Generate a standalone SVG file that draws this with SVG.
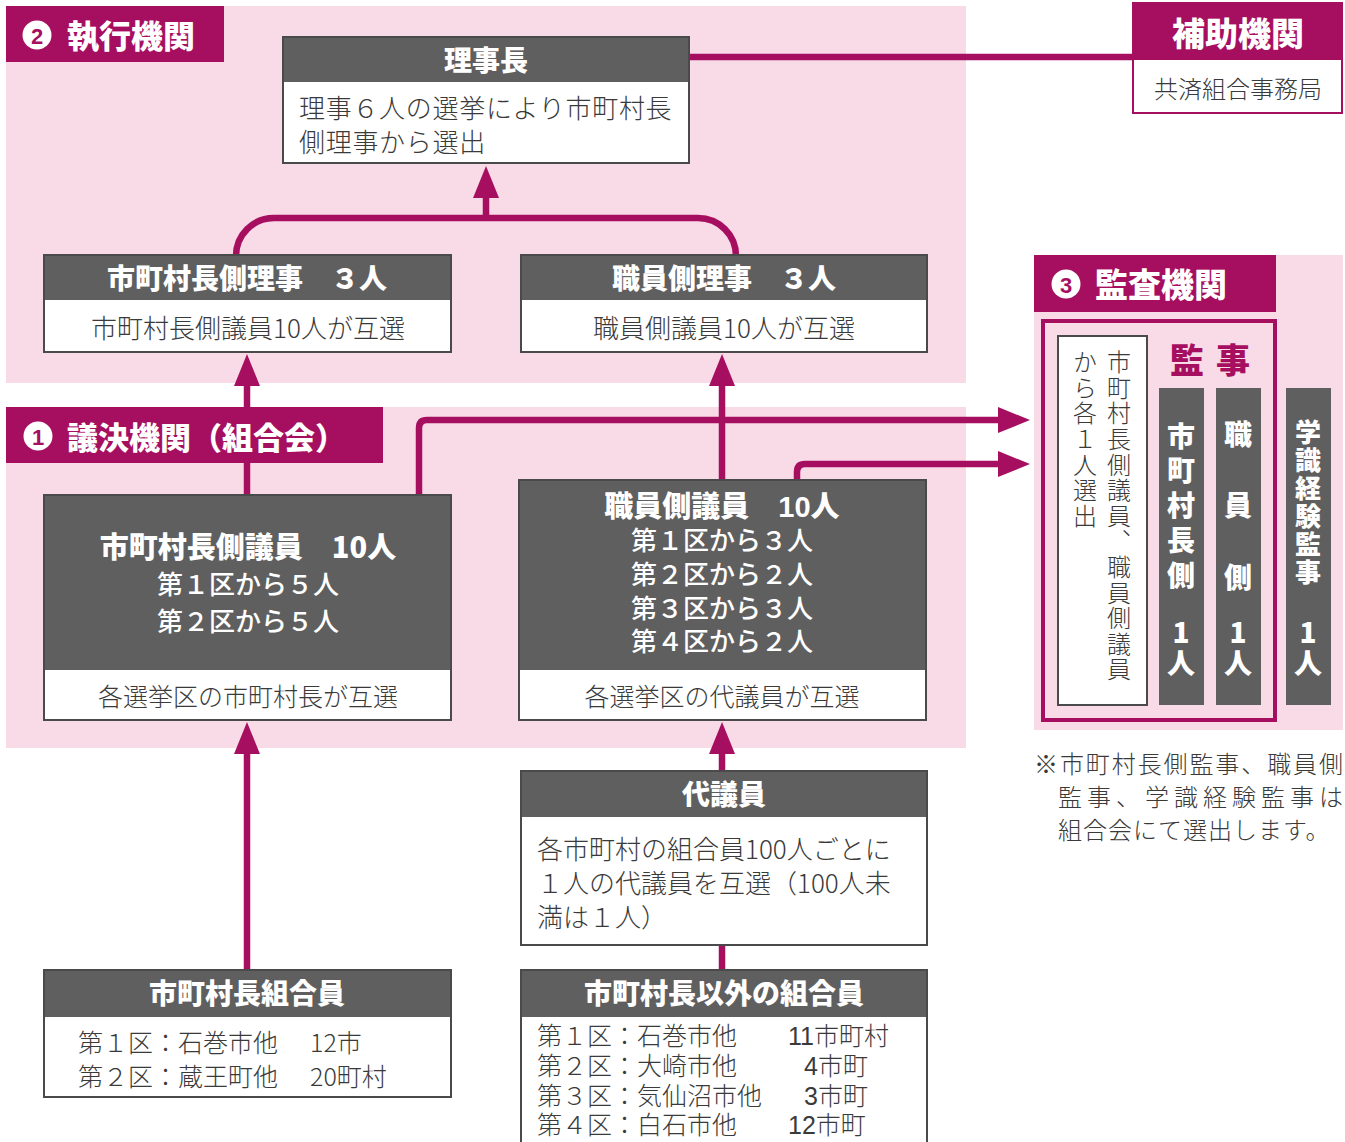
<svg xmlns="http://www.w3.org/2000/svg" width="1345" height="1142" viewBox="0 0 1345 1142">
<defs>
<style>
text{font-family:"Noto Sans CJK JP","Noto Sans",sans-serif;}
.pink{fill:#f9dbe8;}
.mag{fill:#a60f60;}
.dark{fill:#5f5f5f;}
.wbox{fill:#fff;stroke:#4a4a4a;stroke-width:2;}
.frame{fill:none;stroke:#4a4a4a;stroke-width:2;}
.ttl{font-size:32px;font-weight:900;fill:#fff;dominant-baseline:central;}
.hd{font-size:28px;font-weight:900;fill:#fff;text-anchor:middle;dominant-baseline:central;}
.hd29{font-size:29px;font-weight:900;fill:#fff;text-anchor:middle;dominant-baseline:central;}
.wt{font-size:26px;font-weight:500;fill:#fff;text-anchor:middle;dominant-baseline:central;}
.bd{font-size:26px;font-weight:300;fill:#3a3a3a;dominant-baseline:central;}
.bdc{font-size:25px;font-weight:300;fill:#3a3a3a;text-anchor:middle;dominant-baseline:central;}
.bd25{font-size:25px;font-weight:300;fill:#3a3a3a;dominant-baseline:central;}
.tight{font-family:"Liberation Sans","Noto Sans CJK JP",sans-serif;}
.note{font-size:24px;font-weight:300;fill:#3a3a3a;dominant-baseline:central;}
.vt{font-size:24px;font-weight:300;fill:#3a3a3a;writing-mode:vertical-rl;letter-spacing:1.6px;}
.vw{font-size:28px;font-weight:900;fill:#fff;writing-mode:vertical-rl;}
.vn{font-size:28px;font-weight:900;fill:#fff;writing-mode:vertical-rl;text-orientation:upright;letter-spacing:3px;}
.conn{fill:none;stroke:#a60f60;stroke-width:6.5;stroke-linejoin:round;}
.num{font-size:22px;font-weight:900;fill:#a60f60;text-anchor:middle;dominant-baseline:central;font-family:"Liberation Sans","Noto Sans",sans-serif;}
</style>
<marker id="ah" markerUnits="userSpaceOnUse" viewBox="0 0 32 26" refX="0" refY="13" markerWidth="32" markerHeight="26" orient="auto">
<path d="M0,0 L32,13 L0,26 z" fill="#a60f60"/>
</marker>
</defs>

<!-- background regions -->
<g id="regions">
<rect class="pink" x="6" y="6" width="960" height="377"/>
<rect class="pink" x="6" y="407" width="960" height="341"/>
<rect class="pink" x="1034" y="255" width="309" height="475"/>
</g>

<!-- connectors -->
<g id="connectors">
<path class="conn" d="M689,57 H1133"/>
<path class="conn" d="M236,256 A38,38 0 0 1 274,218 H698 A38,38 0 0 1 736,256"/>
<path class="conn" d="M486,218 V198" marker-end="url(#ah)"/>
<path class="conn" d="M247,495 V386" marker-end="url(#ah)"/>
<path class="conn" d="M722,480 V386" marker-end="url(#ah)"/>
<path class="conn" d="M419,495 V428 Q419,420 427,420 H998" marker-end="url(#ah)"/>
<path class="conn" d="M797,480 V472 Q797,464 805,464 H998" marker-end="url(#ah)"/>
<path class="conn" d="M722,771 V754" marker-end="url(#ah)"/>
<path class="conn" d="M247,970 V754" marker-end="url(#ah)"/>
<path class="conn" d="M722,945 V970"/>
</g>

<!-- section headers -->
<g id="hdr-exec">
<rect class="mag" x="6" y="6" width="218" height="56"/>
<circle cx="37" cy="35" r="14.5" fill="#fff"/>
<text class="num" x="37" y="36">2</text>
<text class="ttl" x="67" y="34">執行機関</text>
</g>
<g id="hdr-vote">
<rect class="mag" x="6" y="407" width="377" height="56"/>
<circle cx="38" cy="436" r="14.5" fill="#fff"/>
<text class="num" x="38" y="437">1</text>
<text class="ttl" x="67" y="435" style="font-size:31px">議決機関（組合会）</text>
</g>
<g id="hdr-audit">
<rect class="mag" x="1034" y="255" width="242" height="57"/>
<circle cx="1066" cy="284" r="14.5" fill="#fff"/>
<text class="num" x="1066" y="285">3</text>
<text class="ttl" x="1095" y="283" style="font-size:33px">監査機関</text>
</g>

<!-- 理事長 -->
<g id="chairman">
<rect class="wbox" x="283" y="37" width="406" height="126"/>
<rect class="dark" x="283" y="37" width="406" height="45"/>
<rect class="frame" x="283" y="37" width="406" height="126"/>
<text class="hd" x="486" y="59">理事長</text>
<text class="bd" x="299" y="106" style="letter-spacing:0.7px">理事６人の選挙により市町村長</text>
<text class="bd" x="299" y="140" style="letter-spacing:0.7px">側理事から選出</text>
</g>

<!-- 補助機関 -->
<g id="support">
<rect x="1133" y="3" width="209" height="110" fill="#fff" stroke="#a60f60" stroke-width="2"/>
<rect class="mag" x="1133" y="3" width="209" height="57"/>
<text class="ttl" x="1238" y="32" style="font-size:33px;text-anchor:middle">補助機関</text>
<text class="bdc" x="1238" y="87" style="font-size:24px">共済組合事務局</text>
</g>

<!-- 市町村長側理事 -->
<g id="mayor-directors">
<rect class="wbox" x="44" y="255" width="407" height="97"/>
<rect class="dark" x="44" y="255" width="407" height="45"/>
<rect class="frame" x="44" y="255" width="407" height="97"/>
<text class="hd" x="247" y="277">市町村長側理事　３人</text>
<text class="bdc" x="248" y="326" style="font-size:26px">市町村長側議員10人が互選</text>
</g>

<!-- 職員側理事 -->
<g id="staff-directors">
<rect class="wbox" x="521" y="255" width="406" height="97"/>
<rect class="dark" x="521" y="255" width="406" height="45"/>
<rect class="frame" x="521" y="255" width="406" height="97"/>
<text class="hd" x="724" y="277">職員側理事　３人</text>
<text class="bdc" x="724" y="326" style="font-size:26px">職員側議員10人が互選</text>
</g>

<!-- 市町村長側議員 -->
<g id="mayor-members">
<rect class="wbox" x="44" y="495" width="407" height="225"/>
<rect class="dark" x="44" y="495" width="407" height="175"/>
<rect class="frame" x="44" y="495" width="407" height="225"/>
<text class="hd29" x="248" y="545">市町村長側議員　10人</text>
<text class="wt" x="248" y="582">第１区から５人</text>
<text class="wt" x="248" y="619">第２区から５人</text>
<text class="bdc" x="248" y="695">各選挙区の市町村長が互選</text>
</g>

<!-- 職員側議員 -->
<g id="staff-members">
<rect class="wbox" x="519" y="480" width="407" height="240"/>
<rect class="dark" x="519" y="480" width="407" height="190"/>
<rect class="frame" x="519" y="480" width="407" height="240"/>
<text class="hd29 tight" x="722" y="507">職員側議員　10人</text>
<text class="wt tight" x="722" y="541">第１区から３人</text>
<text class="wt tight" x="722" y="575">第２区から２人</text>
<text class="wt tight" x="722" y="609">第３区から３人</text>
<text class="wt tight" x="722" y="642">第４区から２人</text>
<text class="bdc" x="722" y="695">各選挙区の代議員が互選</text>
</g>

<!-- 代議員 -->
<g id="delegates">
<rect class="wbox" x="521" y="771" width="406" height="174"/>
<rect class="dark" x="521" y="771" width="406" height="46"/>
<rect class="frame" x="521" y="771" width="406" height="174"/>
<text class="hd" x="724" y="793">代議員</text>
<text class="bd" x="537" y="847">各市町村の組合員100人ごとに</text>
<text class="bd" x="537" y="881">１人の代議員を互選（100人未</text>
<text class="bd" x="537" y="915">満は１人）</text>
</g>

<!-- 市町村長組合員 -->
<g id="mayor-union">
<rect class="wbox" x="44" y="970" width="407" height="127"/>
<rect class="dark" x="44" y="970" width="407" height="47"/>
<rect class="frame" x="44" y="970" width="407" height="127"/>
<text class="hd" x="247" y="992">市町村長組合員</text>
<text class="bd25" x="78" y="1041">第１区：石巻市他</text>
<text class="bd25" x="310" y="1041">12市</text>
<text class="bd25" x="78" y="1075">第２区：蔵王町他</text>
<text class="bd25" x="310" y="1075">20町村</text>
</g>

<!-- 市町村長以外の組合員 -->
<g id="other-union">
<rect class="wbox" x="521" y="970" width="406" height="180"/>
<rect class="dark" x="521" y="970" width="406" height="47"/>
<rect class="frame" x="521" y="970" width="406" height="180"/>
<text class="hd" x="724" y="992">市町村長以外の組合員</text>
<text class="bd25 tight" x="537" y="1036">第１区：石巻市他</text>
<text class="bd25 tight" x="788" y="1036">11市町村</text>
<text class="bd25 tight" x="537" y="1066">第２区：大崎市他</text>
<text class="bd25 tight" x="804" y="1066">4市町</text>
<text class="bd25 tight" x="537" y="1096">第３区：気仙沼市他</text>
<text class="bd25 tight" x="804" y="1096">3市町</text>
<text class="bd25 tight" x="537" y="1125">第４区：白石市他</text>
<text class="bd25 tight" x="788" y="1125">12市町</text>
</g>

<!-- 監事 -->
<g id="auditors">
<rect x="1043" y="321" width="232" height="399" fill="none" stroke="#a60f60" stroke-width="4"/>
<rect class="wbox" x="1058" y="336" width="89" height="369"/>
<text class="vt" x="1119" y="350">市町村長側議員、職員側議員</text>
<text class="vt" x="1085" y="350">から各１人選出</text>
<text x="1170" y="358" style="font-size:34px;font-weight:900;fill:#a60f60;dominant-baseline:central;letter-spacing:12px">監事</text>
</g>
<g id="auditor-mayor">
<rect class="dark" x="1159" y="388" width="45" height="317"/>
<text class="vw" x="1181" y="422" style="letter-spacing:6.8px">市町村長側</text>
<text class="vn" x="1181" y="618">1人</text>
</g>
<g id="auditor-staff">
<rect class="dark" x="1216" y="388" width="45" height="317"/>
<text class="vw" x="1238" y="420" style="letter-spacing:43.5px">職員側</text>
<text class="vn" x="1238" y="618">1人</text>
</g>
<g id="auditor-expert">
<rect class="dark" x="1286" y="388" width="45" height="317"/>
<text class="vw" x="1308" y="419" style="font-size:26px;letter-spacing:2px">学識経験監事</text>
<text class="vn" x="1308" y="618">1人</text>
</g>

<!-- note -->
<g id="note">
<text class="note" x="1034" y="762" textLength="309" lengthAdjust="spacing">※市町村長側監事、職員側</text>
<text class="note" x="1058" y="795" textLength="285" lengthAdjust="spacing">監事、学識経験監事は</text>
<text class="note" x="1058" y="828" style="letter-spacing:1px">組合会にて選出します。</text>
</g>
</svg>
